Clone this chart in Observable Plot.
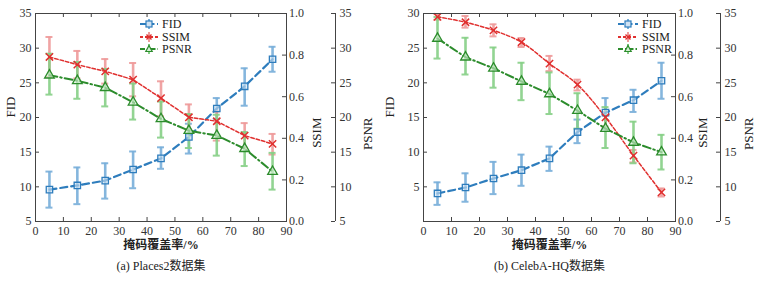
<!DOCTYPE html>
<html><head><meta charset="utf-8">
<script src="https://cdn.jsdelivr.net/npm/d3@7"></script>
<script src="https://cdn.jsdelivr.net/npm/@observablehq/plot@0.6"></script>
<style>
body{margin:0;background:#fff;font-family:"Liberation Serif","Noto Sans CJK SC",serif;}
#wrap{display:flex;width:759px;height:283px;overflow:hidden;}
.panel{position:relative;}
.legend{position:absolute;font-size:12px;color:#222;}
.legend div{display:flex;align-items:center;height:12.5px;}
.legend span{display:block;height:12px;line-height:12px;overflow:visible;}
.legend svg{margin-right:4px;}
</style></head><body><div id="wrap"></div>
<script>
// ---------- data ----------
const maskRate = [5, 15, 25, 35, 45, 55, 65, 75, 85];
const xTicks = [0, 10, 20, 30, 40, 50, 60, 70, 80, 90];
const ssimTicks = [0.0, 0.2, 0.4, 0.6, 0.8, 1.0];
const psnrTicks = [5, 10, 15, 20, 25, 30, 35];
const placesFidTicks = [5, 10, 15, 20, 25, 30, 35];
const celebFidTicks = [5, 10, 15, 20, 25, 30];

// (a) Places2
const placesFID   = [9.6, 10.2, 10.9, 12.5, 14.1, 17.2, 21.3, 24.5, 28.4];
const placesFIDLo = [7.0, 7.5, 8.3, 9.8, 12.6, 14.8, 19.8, 21.7, 26.6];
const placesFIDHi = [12.2, 12.8, 13.4, 15.1, 15.7, 19.1, 22.8, 27.1, 30.2];
const placesSSIM   = [0.791, 0.754, 0.722, 0.682, 0.593, 0.501, 0.482, 0.413, 0.373];
const placesSSIMLo = [0.695, 0.688, 0.663, 0.602, 0.506, 0.442, 0.389, 0.354, 0.322];
const placesSSIMHi = [0.887, 0.820, 0.781, 0.762, 0.674, 0.563, 0.529, 0.473, 0.421];
const placesPSNR   = [26.1, 25.3, 24.3, 22.2, 19.8, 18.1, 17.4, 15.5, 12.2];
const placesPSNRLo = [23.3, 22.7, 21.6, 19.7, 17.1, 15.6, 14.5, 13.0, 9.6];
const placesPSNRHi = [29.2, 28.0, 27.0, 24.9, 22.3, 20.5, 20.4, 17.9, 14.9];

// (b) CelebA-HQ
const celebFID   = [4.05, 4.9, 6.2, 7.4, 9.1, 12.9, 15.7, 17.5, 20.3];
const celebFIDLo = [2.4, 2.85, 3.95, 5.15, 7.3, 11.3, 13.3, 15.8, 17.7];
const celebFIDHi = [5.65, 6.95, 8.6, 9.65, 10.8, 14.7, 17.8, 19.0, 22.9];
const celebSSIM   = [0.984, 0.958, 0.919, 0.862, 0.759, 0.658, 0.501, 0.317, 0.140];
const celebSSIMLo = [0.970, 0.932, 0.890, 0.839, 0.723, 0.630, 0.457, 0.284, 0.120];
const celebSSIMHi = [0.997, 0.988, 0.948, 0.882, 0.796, 0.682, 0.526, 0.344, 0.159];
const celebPSNR   = [31.4, 28.7, 27.1, 25.2, 23.4, 21.0, 18.4, 16.4, 15.0];
const celebPSNRLo = [28.5, 26.2, 24.3, 22.5, 20.5, 18.4, 15.6, 13.4, 12.5];
const celebPSNRHi = [34.5, 31.5, 30.1, 27.9, 26.5, 23.5, 21.5, 19.4, 17.5];

const seriesNames = ["FID", "SSIM", "PSNR"];
const lineColors = {FID: "#2e7dbd", SSIM: "#e0302f", PSNR: "#2c8c2c"};
const barColors  = {FID: "#78aed9", SSIM: "#ee9a9a", PSNR: "#86cf86"};

// ---------- drawing ----------
const serif = "Liberation Serif, Noto Sans CJK SC, serif";
const cjk = "Liberation Serif, Noto Sans CJK SC, sans-serif";
const tickFont = 12;

function panel(cfg) {
  const [d0, d1] = cfg.fidDomain;
  const ssimY = s => d0 + s * (d1 - d0);
  const psnrY = p => d0 + (p - 5) / 30 * (d1 - d0);
  const rows = (vals, lo, hi, f) => maskRate.map((x, i) => ({x, y: f(vals[i]), lo: f(lo[i]), hi: f(hi[i])}));
  const id = v => v;
  const S = {
    FID: rows(cfg.fid, cfg.fidLo, cfg.fidHi, id),
    SSIM: rows(cfg.ssim, cfg.ssimLo, cfg.ssimHi, ssimY),
    PSNR: rows(cfg.psnr, cfg.psnrLo, cfg.psnrHi, psnrY)
  };
  const xMin = xTicks[0], xMax = xTicks[xTicks.length - 1];
  const off = cfg.psnrOffset;
  const axisCol = "#444";
  const errMarks = [];
  for (const k of seriesNames) {
    errMarks.push(
      Plot.ruleX(S[k], {x: "x", y1: "lo", y2: "hi", stroke: barColors[k], strokeWidth: 2.6, strokeOpacity: 0.9}),
      Plot.ruleY(S[k], {y: "lo", x1: "x", x2: "x", insetLeft: -3.5, insetRight: -3.5, stroke: barColors[k], strokeWidth: 2, strokeOpacity: 0.9}),
      Plot.ruleY(S[k], {y: "hi", x1: "x", x2: "x", insetLeft: -3.5, insetRight: -3.5, stroke: barColors[k], strokeWidth: 2, strokeOpacity: 0.9})
    );
  }
  const svg = Plot.plot({
    width: cfg.width, height: 283,
    marginLeft: cfg.ml, marginRight: cfg.mr, marginTop: 13, marginBottom: 62,
    x: {domain: [xMin, xMax], axis: null},
    y: {domain: [d0, d1], axis: null},
    style: {fontFamily: serif, fontSize: "12px", color: "#222", background: "white"},
    marks: [
      ...errMarks,
      Plot.line(S.FID, {x: "x", y: "y", stroke: lineColors.FID, strokeWidth: 2.2, strokeDasharray: "7,4"}),
      Plot.line(S.SSIM, {x: "x", y: "y", stroke: lineColors.SSIM, strokeWidth: 1.5, strokeDasharray: "3.5,2", curve: cfg.ssimCurve}),
      Plot.line(S.PSNR, {x: "x", y: "y", stroke: lineColors.PSNR, strokeWidth: 2, strokeDasharray: "8,3,1.5,3"}),
      Plot.dot(S.FID, {x: "x", y: "y", symbol: "square", r: 3.6, stroke: lineColors.FID, fill: "#cfe2f3", fillOpacity: 0.6, strokeWidth: 1.3}),
      Plot.dot(S.SSIM, {x: "x", y: "y", symbol: "times", r: 3.4, stroke: lineColors.SSIM, strokeWidth: 1.5}),
      Plot.dot(S.PSNR, {x: "x", y: "y", symbol: "triangle", r: 3.6, stroke: lineColors.PSNR, fill: "#d4f0d4", fillOpacity: 0.6, strokeWidth: 1.3}),
      Plot.frame({stroke: axisCol, strokeWidth: 1}),
      // left FID axis (inward ticks)
      Plot.ruleY(cfg.fidTicks, {y: d => d, x1: xMin, x2: xMin, insetRight: -4, stroke: axisCol}),
      Plot.text(cfg.fidTicks, {y: d => d, x: xMin, dx: -4, textAnchor: "end", text: d => String(d), fontSize: tickFont, fill: "#333"}),
      // x axis (inward ticks bottom and top)
      Plot.ruleX(xTicks, {x: d => d, y1: d0, y2: d0, insetBottom: 4, stroke: axisCol}),
      Plot.ruleX(xTicks, {x: d => d, y1: d1, y2: d1, insetBottom: -4, stroke: axisCol}),
      Plot.text(xTicks, {x: d => d, frameAnchor: "bottom", dy: 13.5, text: d => String(d), fontSize: tickFont, fill: "#333"}),
      // SSIM axis on the right frame edge
      Plot.ruleY(ssimTicks, {y: ssimY, x1: xMax, x2: xMax, insetLeft: -4, stroke: axisCol}),
      Plot.text(ssimTicks, {y: ssimY, x: xMax, dx: 2.5, textAnchor: "start", text: d => d.toFixed(1), fontSize: tickFont, fill: "#333"}),
      // PSNR axis, offset to the right
      Plot.ruleX([xMax], {x: d => d, y1: d0, y2: d1, dx: off, stroke: axisCol}),
      Plot.ruleY(psnrTicks, {y: psnrY, x1: xMax, x2: xMax, insetLeft: -4, dx: off, stroke: axisCol}),
      Plot.text(psnrTicks, {y: psnrY, x: xMax, dx: off + 4, textAnchor: "start", text: d => String(d), fontSize: tickFont, fill: "#333"}),
      // axis titles
      Plot.text(["FID"], {frameAnchor: "left", dx: cfg.fidLabelDx, rotate: -90, text: d => d, fontSize: 13, fill: "#222"}),
      Plot.text(["SSIM"], {frameAnchor: "right", dx: cfg.ssimLabelDx, rotate: -90, text: d => d, fontSize: 13, fill: "#222"}),
      Plot.text(["PSNR"], {frameAnchor: "right", dx: cfg.psnrLabelDx, rotate: -90, text: d => d, fontSize: 13, fill: "#222"}),
      Plot.text(["掩码覆盖率/%"], {frameAnchor: "bottom", dy: 27, text: d => d, fontSize: 12, fontWeight: "bold", fill: "#222", fontFamily: cjk}),
      Plot.text([cfg.caption], {frameAnchor: "bottom", dy: 48, text: d => d, fontSize: 12, fill: "#222", fontFamily: cjk})
    ]
  });
  const div = document.createElement("div");
  div.className = "panel";
  div.style.width = cfg.width + "px";
  div.appendChild(svg);
  // legend
  const leg = document.createElement("div");
  leg.className = "legend";
  leg.style.left = cfg.legendLeft + "px";
  leg.style.top = "18px";
  const c0 = cfg.legendW / 2;
  const sym = {
    FID: c => `<rect x="${c0 - 3}" y="3" width="6" height="6" fill="#cfe2f3" stroke="${c}" stroke-width="1.2"/>`,
    SSIM: c => `<path d="M${c0 - 2.5},3.5L${c0 + 2.5},8.5M${c0 + 2.5},3.5L${c0 - 2.5},8.5" stroke="${c}" stroke-width="1.4"/>`,
    PSNR: c => `<path d="M${c0},2.5L${c0 + 3.2},8.5L${c0 - 3.2},8.5Z" fill="#d4f0d4" stroke="${c}" stroke-width="1.2"/>`
  };
  const dash = {FID: "6,2.5", SSIM: "3,2", PSNR: "5,2,1.5,2"};
  leg.innerHTML = seriesNames.map(k =>
    `<div><svg width="${cfg.legendW}" height="12"><line x1="${c0}" x2="${c0}" y1="1" y2="11" stroke="${barColors[k]}" stroke-width="2"/>` +
    `<line x1="0" x2="${cfg.legendW}" y1="6" y2="6" stroke="${lineColors[k]}" stroke-width="2" stroke-dasharray="${dash[k]}"/>` +
    sym[k](lineColors[k]) + `</svg><span>${k}</span></div>`
  ).join("");
  div.appendChild(leg);
  return div;
}

const wrap = document.getElementById("wrap");
wrap.appendChild(panel({
  width: 380, ml: 35, mr: 94, fidDomain: [5, 35], fidTicks: placesFidTicks,
  fid: placesFID, fidLo: placesFIDLo, fidHi: placesFIDHi,
  ssim: placesSSIM, ssimLo: placesSSIMLo, ssimHi: placesSSIMHi,
  psnr: placesPSNR, psnrLo: placesPSNRLo, psnrHi: placesPSNRHi,
  psnrOffset: 49, fidLabelDx: -25, ssimLabelDx: 30, psnrLabelDx: 81,
  caption: "(a) Places2数据集", legendLeft: 140, legendW: 18, ssimCurve: "linear"
}));
wrap.appendChild(panel({
  width: 379, ml: 43, mr: 84, fidDomain: [0, 30], fidTicks: celebFidTicks,
  fid: celebFID, fidLo: celebFIDLo, fidHi: celebFIDHi,
  ssim: celebSSIM, ssimLo: celebSSIMLo, ssimHi: celebSSIMHi,
  psnr: celebPSNR, psnrLo: celebPSNRLo, psnrHi: celebPSNRHi,
  psnrOffset: 45, fidLabelDx: -34, ssimLabelDx: 27, psnrLabelDx: 73,
  caption: "(b) CelebA-HQ数据集", legendLeft: 238, legendW: 20, ssimCurve: "catmull-rom"
}));
</script></body></html>
